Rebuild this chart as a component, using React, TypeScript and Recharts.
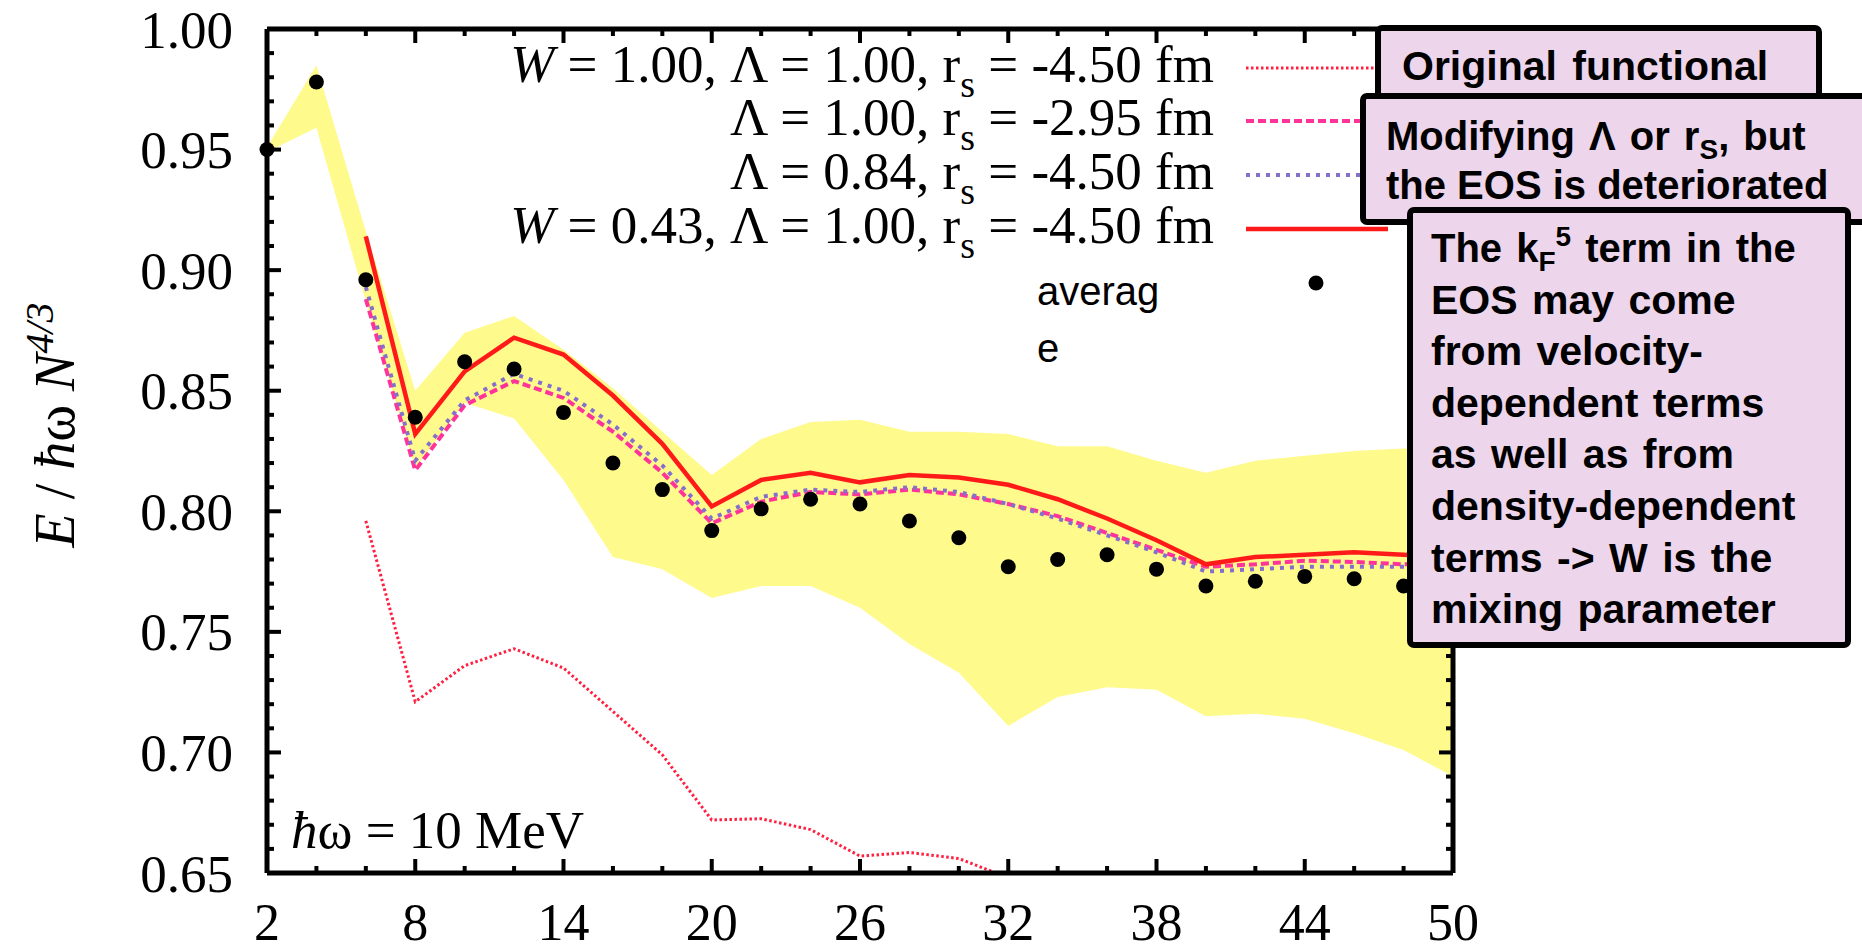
// App.tsx — E / ħω N^{4/3} against N for the trapped neutron drop functionals
import { Area, ComposedChart, Line, XAxis, YAxis } from 'recharts'

// N values on the x axis
const N_VALUES = [2, 4, 6, 8, 10, 12, 14, 16, 18, 20, 22, 24, 26, 28, 30, 32, 34, 36, 38, 40, 42, 44, 46, 48, 50]

// average of the ab initio results (black dots)
const AVERAGE = [0.95, 0.978, 0.896, 0.839, 0.862, 0.859, 0.841, 0.82, 0.809, 0.792, 0.801, 0.805, 0.803, 0.796, 0.789, 0.777, 0.78, 0.782, 0.776, 0.769, 0.771, 0.773, 0.772, 0.769, null]

// spread of the ab initio results (yellow band)
const BAND_LOW = [0.949, 0.959, 0.887, 0.818, 0.845, 0.8385, 0.813, 0.781, 0.776, 0.764, 0.769, 0.769, 0.76, 0.745, 0.733, 0.711, 0.723, 0.727, 0.726, 0.715, 0.716, 0.714, 0.708, 0.701, 0.69]
const BAND_HIGH = [0.951, 0.985, 0.916, 0.85, 0.874, 0.881, 0.867, 0.851, 0.833, 0.815, 0.83, 0.837, 0.838, 0.833, 0.833, 0.832, 0.827, 0.827, 0.821, 0.816, 0.821, 0.823, 0.825, 0.826, 0.826]

// functional results
const ORIGINAL = [null, null, 0.796, 0.721, 0.736, 0.743, 0.735, 0.717, 0.699, 0.672, 0.6725, 0.668, 0.657, 0.6585, 0.656, 0.648, null, null, null, null, null, null, null, null, null]
const RS_295 = [null, null, 0.888, 0.817, 0.844, 0.854, 0.847, 0.833, 0.816, 0.795, 0.804, 0.808, 0.807, 0.809, 0.807, 0.803, 0.798, 0.791, 0.784, 0.777, 0.778, 0.7795, 0.779, 0.778, 0.778]
const LAMBDA_084 = [null, null, 0.893, 0.821, 0.846, 0.857, 0.85, 0.836, 0.819, 0.797, 0.806, 0.809, 0.808, 0.81, 0.808, 0.803, 0.797, 0.79, 0.783, 0.775, 0.776, 0.777, 0.777, 0.777, 0.777]
const W_043 = [null, null, 0.914, 0.832, 0.858, 0.872, 0.865, 0.848, 0.828, 0.802, 0.813, 0.816, 0.812, 0.815, 0.814, 0.811, 0.805, 0.797, 0.788, 0.778, 0.781, 0.782, 0.783, 0.782, 0.781]

// tick labels (majors) and the minor tick positions
const X_TICKS = [2, 8, 14, 20, 26, 32, 38, 44, 50]
const Y_TICKS = [0.65, 0.7, 0.75, 0.8, 0.85, 0.9, 0.95, 1.0]
const Y_MINOR = Array.from({ length: 36 }, (_, i) => Math.round((0.65 + i * 0.01) * 100) / 100)

const data = N_VALUES.map((n, i) => ({
  n,
  band: [BAND_LOW[i], BAND_HIGH[i]],
  average: AVERAGE[i],
  original: ORIGINAL[i],
  rs295: RS_295[i],
  lambda084: LAMBDA_084[i],
  w043: W_043[i],
}))

const SERIF = '"Liberation Serif", "Times New Roman", serif'
const SANS = '"Liberation Sans", Arial, sans-serif'

const W = 1862
const H = 951
// every axis is 1px wide/high, so the plot runs 267..1453 x 29..873
const MARGIN = { top: 28, right: 408, bottom: 77, left: 266 }

// line styles, shared by the series and the key samples
const STYLE = {
  original: { stroke: '#ff2040', strokeWidth: 3, strokeDasharray: '2.5 2.5' },
  rs295: { stroke: '#ff3399', strokeWidth: 4, strokeDasharray: '8 4' },
  lambda084: { stroke: '#8470cc', strokeWidth: 4, strokeDasharray: '4 6' },
  w043: { stroke: '#ff1a1a', strokeWidth: 4.5 },
}
const BAND_COLOR = '#fffa8c'
const NOTE_FILL = '#edd5eb'

const AXIS_LINE = { stroke: '#000', strokeWidth: 5 }
const MAJOR_LEN = 14
const MINOR_LEN = 7

type Side = 'left' | 'right' | 'top' | 'bottom'

const isMajor = (v: number, majors: number[]) => majors.some((m) => Math.abs(m - v) < 1e-6)

// gnuplot-like ticks: drawn inward from the frame, labels only on left/bottom
function frameTick(side: Side, majors: number[], format?: (v: number) => string) {
  return (props: any) => {
    const { x, y, payload } = props
    const value = payload.value as number
    const major = isMajor(value, majors)
    const len = major ? MAJOR_LEN : MINOR_LEN
    let x2 = x
    let y2 = y
    if (side === 'left') x2 = x + len
    if (side === 'right') x2 = x - len
    if (side === 'bottom') y2 = y - len
    if (side === 'top') y2 = y + len
    return (
      <g>
        <line x1={x} y1={y} x2={x2} y2={y2} stroke="#000" strokeWidth={4} />
        {major && format && side === 'left' && (
          <text x={x - 34} y={y} dy="0.35em" textAnchor="end" fontFamily={SERIF} fontSize={53} fill="#000">
            {format(value)}
          </text>
        )}
        {major && format && side === 'bottom' && (
          <text x={x} y={y + 67} textAnchor="middle" fontFamily={SERIF} fontSize={52} fill="#000">
            {format(value)}
          </text>
        )}
      </g>
    )
  }
}

// key rows: y of the sample line, and the text
const KEY_ROWS: { key: keyof typeof STYLE; y: number; w?: string; rest: string; value: string }[] = [
  { key: 'original', y: 68, w: '1.00, ', rest: 'Λ = 1.00, r', value: ' = -4.50 fm' },
  { key: 'rs295', y: 121, rest: 'Λ = 1.00, r', value: ' = -2.95 fm' },
  { key: 'lambda084', y: 175, rest: 'Λ = 0.84, r', value: ' = -4.50 fm' },
  { key: 'w043', y: 229, w: '0.43, ', rest: 'Λ = 1.00, r', value: ' = -4.50 fm' },
]

const NOTE_LINES = [
  'EOS may come',
  'from velocity-',
  'dependent terms',
  'as well as from',
  'density-dependent',
  'terms -> W is the',
  'mixing parameter',
]

function Overlay() {
  return (
    <svg width={W} height={H} style={{ position: 'absolute', left: 0, top: 0, pointerEvents: 'none' }}>
      {/* y axis title */}
      <text transform="translate(74 425) rotate(-90)" textAnchor="middle" fontFamily={SERIF} fontSize={56} fill="#000">
        <tspan fontStyle="italic">E</tspan>
        <tspan>{' / '}</tspan>
        <tspan fontStyle="italic">ħ</tspan>
        <tspan>{'ω '}</tspan>
        <tspan fontStyle="italic">N</tspan>
        <tspan dy={-21} fontSize={40} fontStyle="italic">4/3</tspan>
      </text>

      {/* ħω label in the plot corner */}
      <text x={291} y={848} fontFamily={SERIF} fontSize={53} fill="#000">
        <tspan fontStyle="italic">ħ</tspan>
        <tspan>{'ω = 10 MeV'}</tspan>
      </text>

      {/* key */}
      {KEY_ROWS.map((row) => (
        <g key={row.key}>
          <text x={1214} y={row.y + 14} textAnchor="end" fontFamily={SERIF} fontSize={53} fill="#000">
            {row.w && <tspan fontStyle="italic">W</tspan>}
            {row.w && <tspan>{' = ' + row.w}</tspan>}
            <tspan>{row.rest}</tspan>
            <tspan dy={15} fontSize={38}>s</tspan>
            <tspan dy={-15}>{row.value}</tspan>
          </text>
          <line x1={1246} x2={1388} y1={row.y} y2={row.y} {...STYLE[row.key]} />
        </g>
      ))}
      <text fontFamily={SANS} fontSize={40} fill="#000">
        <tspan x={1037} y={305}>averag</tspan>
        <tspan x={1037} y={362}>e</tspan>
      </text>
      <circle cx={1316} cy={283} r={7.5} fill="#000" />

      {/* notes */}
      <rect x={1378} y={28} width={441} height={80} rx={4} fill={NOTE_FILL} stroke="#000" strokeWidth={6} />
      <text x={1402} y={80} fontFamily={SANS} fontWeight="bold" fontSize={41} fill="#000" wordSpacing={4}>
        Original functional
      </text>

      <rect x={1363} y={96} width={540} height={126} rx={4} fill={NOTE_FILL} stroke="#000" strokeWidth={6} />
      <text x={1386} y={150} fontFamily={SANS} fontWeight="bold" fontSize={40} fill="#000" wordSpacing={3}>
        <tspan>{'Modifying Λ or r'}</tspan>
        <tspan dy={9} fontSize={28}>S</tspan>
        <tspan dy={-9}>{', but'}</tspan>
      </text>
      <text x={1386} y={199} fontFamily={SANS} fontWeight="bold" fontSize={40} fill="#000">
        the EOS is deteriorated
      </text>

      <rect x={1410} y={210} width={438} height={435} rx={4} fill={NOTE_FILL} stroke="#000" strokeWidth={6} />
      <text x={1431} y={262} fontFamily={SANS} fontWeight="bold" fontSize={40} fill="#000" wordSpacing={3}>
        <tspan>{'The k'}</tspan>
        <tspan dy={9} fontSize={28}>F</tspan>
        <tspan dy={-25} fontSize={28}>5</tspan>
        <tspan dy={16}>{' term in the'}</tspan>
      </text>
      {NOTE_LINES.map((line, i) => (
        <text key={line} x={1431} y={262 + (i + 1) * 51.6} fontFamily={SANS} fontWeight="bold" fontSize={41}
          fill="#000" wordSpacing={3}>
          {line}
        </text>
      ))}
    </svg>
  )
}

const fmtY = (v: number) => v.toFixed(2)
const fmtX = (v: number) => String(v)

export default function App() {
  return (
    <div style={{ position: 'absolute', left: 0, top: 0, width: W, height: H, background: '#fff' }}>
      <ComposedChart width={W} height={H} data={data} margin={MARGIN}>
        {/* frame: one axis per side, ticks every 2 in N and 0.01 in E */}
        <XAxis xAxisId="x" type="number" dataKey="n" domain={[2, 50]} allowDataOverflow ticks={N_VALUES} interval={0}
          height={1} tickSize={0} tickMargin={0} tickLine={false} axisLine={AXIS_LINE}
          tick={frameTick('bottom', X_TICKS, fmtX)} />
        <XAxis xAxisId="xt" orientation="top" type="number" dataKey="n" domain={[2, 50]} allowDataOverflow ticks={N_VALUES}
          interval={0} height={1} tickSize={0} tickMargin={0} tickLine={false} axisLine={AXIS_LINE}
          tick={frameTick('top', X_TICKS)} />
        <YAxis yAxisId="y" domain={[0.65, 1]} allowDataOverflow ticks={Y_MINOR} interval={0}
          width={1} tickSize={0} tickMargin={0} tickLine={false} axisLine={AXIS_LINE}
          tick={frameTick('left', Y_TICKS, fmtY)} />
        <YAxis yAxisId="yr" orientation="right" domain={[0.65, 1]} allowDataOverflow ticks={Y_MINOR} interval={0}
          width={1} tickSize={0} tickMargin={0} tickLine={false} axisLine={AXIS_LINE}
          tick={frameTick('right', Y_TICKS)} />

        <Area xAxisId="x" yAxisId="y" dataKey="band" type="linear" stroke="none" fill={BAND_COLOR} fillOpacity={1}
          dot={false} activeDot={false} isAnimationActive={false} />
        <Line xAxisId="x" yAxisId="y" dataKey="average" stroke="none"
          dot={{ r: 7.5, fill: '#000', stroke: 'none', clipDot: false }} activeDot={false} isAnimationActive={false} />
        <Line xAxisId="x" yAxisId="y" dataKey="original" type="linear" {...STYLE.original} dot={false} activeDot={false} isAnimationActive={false} />
        <Line xAxisId="x" yAxisId="y" dataKey="rs295" type="linear" {...STYLE.rs295} dot={false} activeDot={false} isAnimationActive={false} />
        <Line xAxisId="x" yAxisId="y" dataKey="lambda084" type="linear" {...STYLE.lambda084} dot={false} activeDot={false} isAnimationActive={false} />
        <Line xAxisId="x" yAxisId="y" dataKey="w043" type="linear" {...STYLE.w043} dot={false} activeDot={false} isAnimationActive={false} />
      </ComposedChart>
      <Overlay />
    </div>
  )
}
